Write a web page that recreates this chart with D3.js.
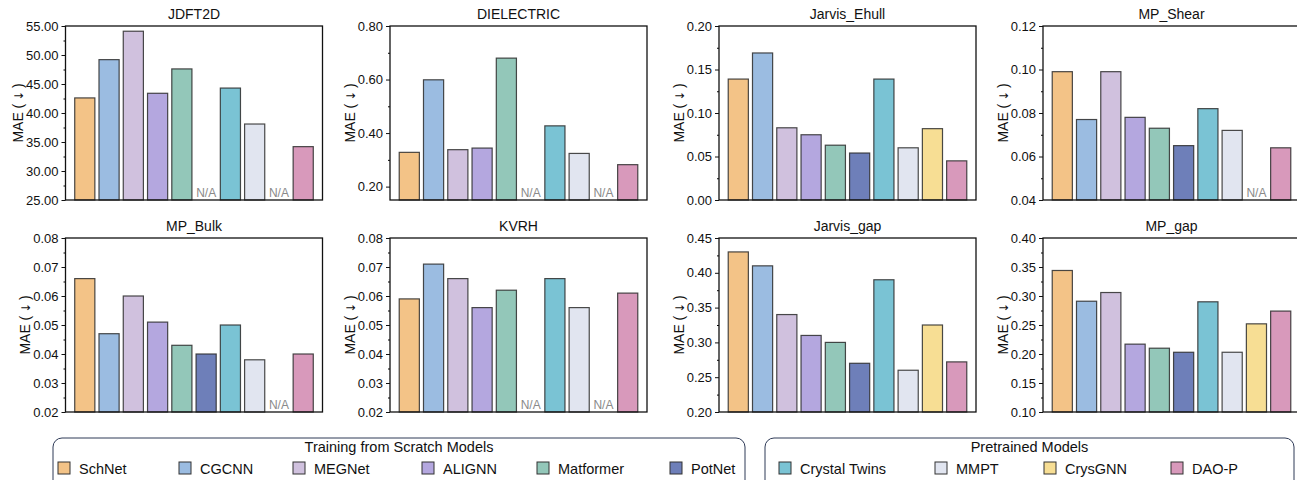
<!DOCTYPE html>
<html>
<head>
<meta charset="utf-8">
<script src="https://cdn.jsdelivr.net/npm/d3@7"></script>
<style>
  body { margin: 0; background: #fff; }
  svg { font-family: Arial, "Liberation Sans", sans-serif; }
</style>
</head>
<body>
<svg id="chart" width="1297" height="480"></svg>
<script>
// models, in bar order
var models = ['SchNet', 'CGCNN', 'MEGNet', 'ALIGNN', 'Matformer', 'PotNet',
  'Crystal Twins', 'MMPT', 'CrysGNN', 'DAO-P']
var scratchModels = models.slice(0, 6)
var pretrainedModels = models.slice(6)

var colors = ['#f3c387', '#9bbce1', '#d0c1de', '#b4a7df', '#93c7b9', '#6e7fb9',
  '#7ac3d4', '#e1e5f0', '#f7de94', '#d899bb']

// MAE per dataset (null = N/A)
var jdft2d     = [42.6, 49.2, 54.1, 43.4, 47.6, null, 44.3, 38.1, null, 34.2]
var dielectric = [0.328, 0.599, 0.338, 0.344, 0.680, null, 0.427, 0.324, null, 0.282]
var jarvisEhull = [0.139, 0.169, 0.083, 0.075, 0.063, 0.054, 0.139, 0.060, 0.082, 0.045]
var mpShear    = [0.099, 0.077, 0.099, 0.078, 0.073, 0.065, 0.082, 0.072, null, 0.064]
var mpBulk     = [0.066, 0.047, 0.060, 0.051, 0.043, 0.040, 0.050, 0.038, null, 0.040]
var kvrh       = [0.059, 0.071, 0.066, 0.056, 0.062, null, 0.066, 0.056, null, 0.061]
var jarvisGap  = [0.430, 0.410, 0.340, 0.310, 0.300, 0.270, 0.390, 0.260, 0.325, 0.272]
var mpGap      = [0.344, 0.291, 0.306, 0.217, 0.210, 0.203, 0.290, 0.203, 0.252, 0.274]

// y axis: [min, max, major step]
var panels = [
  {title: 'JDFT2D', values: jdft2d, y: [25, 55, 5]},
  {title: 'DIELECTRIC', values: dielectric, y: [0.15, 0.80, 0.2], first: 0.2},
  {title: 'Jarvis_Ehull', values: jarvisEhull, y: [0, 0.20, 0.05]},
  {title: 'MP_Shear', values: mpShear, y: [0.04, 0.12, 0.02]},
  {title: 'MP_Bulk', values: mpBulk, y: [0.02, 0.08, 0.01]},
  {title: 'KVRH', values: kvrh, y: [0.02, 0.08, 0.01]},
  {title: 'Jarvis_gap', values: jarvisGap, y: [0.20, 0.45, 0.05]},
  {title: 'MP_gap', values: mpGap, y: [0.10, 0.40, 0.05]},
]

var svg = d3.select('#chart')
var colX = [65.5, 390, 719, 1043]
var rowY = [26, 238]
var pw = 257, ph = 174

var x = d3.scaleBand().domain(models).range([0, pw])
  .paddingInner(0.17).paddingOuter(0.38)

panels.forEach(function(p, i) {
  var g = svg.append('g')
    .attr('transform', 'translate(' + colX[i % 4] + ',' + rowY[Math.floor(i / 4)] + ')')

  var lo = p.y[0], hi = p.y[1], step = p.y[2]
  var y = d3.scaleLinear().domain([lo, hi]).range([ph, 0])
  var start = p.first != null ? p.first : lo
  var major = d3.range(start, hi + step / 2, step)
  var minor = d3.range(start - step / 2, hi, step).filter(v => v > lo + 1e-9)

  var rows = models.map((m, j) => ({model: m, v: p.values[j], color: colors[j]}))

  g.append('g').selectAll('rect')
    .data(rows.filter(d => d.v != null))
    .join('rect')
    .attr('x', d => x(d.model))
    .attr('width', x.bandwidth())
    .attr('y', d => y(d.v))
    .attr('height', d => ph - y(d.v))
    .attr('fill', d => d.color)
    .attr('stroke', '#2a2a2a')
    .attr('stroke-opacity', 0.85)
    .attr('stroke-width', 1.2)

  g.append('g').selectAll('text')
    .data(rows.filter(d => d.v == null))
    .join('text')
    .attr('x', d => x(d.model) + x.bandwidth() / 2)
    .attr('y', ph - 3)
    .attr('text-anchor', 'middle')
    .attr('font-size', 12)
    .attr('fill', '#8a8a8a')
    .text('N/A')

  // minor ticks
  g.append('g')
    .call(d3.axisLeft(y).tickValues(minor).tickSize(2).tickFormat(''))
    .call(a => a.select('.domain').remove())

  var ax = g.append('g')
    .call(d3.axisLeft(y).tickValues(major).tickSize(4).tickPadding(3)
      .tickFormat(d3.format('.2f')))
  ax.select('.domain').remove()
  ax.selectAll('text').attr('font-size', 13).attr('fill', '#111')
    .style('font-family', 'Arial, "Liberation Sans", sans-serif')
  ax.selectAll('line').attr('stroke', '#111')

  // frame
  g.append('rect')
    .attr('width', pw).attr('height', ph)
    .attr('fill', 'none').attr('stroke', '#111').attr('stroke-width', 1.3)

  g.append('text')
    .attr('x', pw / 2).attr('y', -7)
    .attr('text-anchor', 'middle')
    .attr('font-size', 14)
    .attr('fill', '#111')
    .text(p.title)

  var labelLeft = d3.min(ax.selectAll('text').nodes(), n => n.getBBox().x)
  var yl = g.append('text')
    .attr('transform', 'translate(' + (labelLeft - 3) + ',' + ph / 2 + ') rotate(-90)')
    .attr('text-anchor', 'middle')
    .attr('font-size', 14)
    .attr('fill', '#111')
  yl.append('tspan').text('MAE (\u2009')
  yl.append('tspan').style('font-family', '"DejaVu Sans", sans-serif')
    .attr('font-size', 12).text('\u2193')
  yl.append('tspan').text('\u2009)')
})

// legends
function legend(x0, x1, title, items, xs) {
  var g = svg.append('g')
  g.append('rect')
    .attr('x', x0).attr('y', 438)
    .attr('width', x1 - x0).attr('height', 60)
    .attr('rx', 9)
    .attr('fill', 'none').attr('stroke', '#2e3a57').attr('stroke-width', 1)
  g.append('text')
    .attr('x', (x0 + x1) / 2).attr('y', 452)
    .attr('text-anchor', 'middle')
    .attr('font-size', 14.5)
    .attr('fill', '#111')
    .text(title)
  var it = g.selectAll('g.item').data(items).join('g')
    .attr('transform', (d, i) => 'translate(' + xs[i] + ',0)')
  it.append('rect')
    .attr('x', 0).attr('y', 462)
    .attr('width', 12).attr('height', 12)
    .attr('fill', d => colors[models.indexOf(d)])
    .attr('stroke', '#333').attr('stroke-width', 1)
  it.append('text')
    .attr('x', 21).attr('y', 474)
    .attr('font-size', 14.5)
    .attr('fill', '#111')
    .text(d => d)
}

legend(53, 745, 'Training from Scratch Models', scratchModels,
  [58, 179, 293, 422, 537, 670])
legend(765, 1294, 'Pretrained Models', pretrainedModels,
  [779, 935, 1044, 1171])
</script>
</body>
</html>
